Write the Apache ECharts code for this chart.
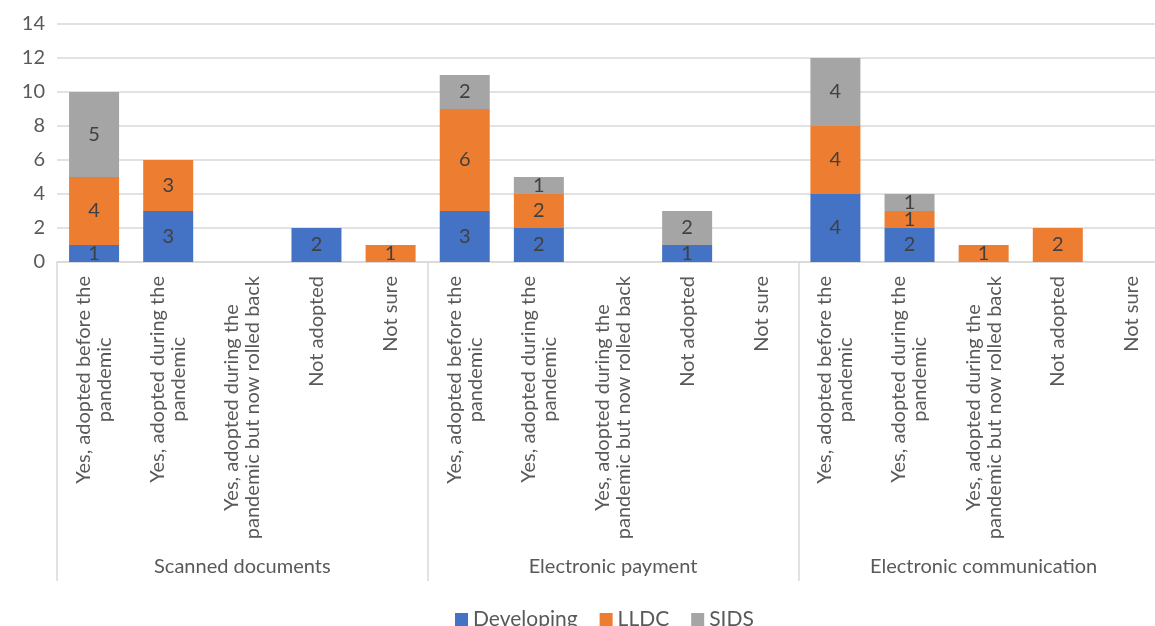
<!DOCTYPE html>
<html>
<head>
<meta charset="utf-8">
<script src="https://cdn.jsdelivr.net/npm/echarts@6/dist/echarts.min.js"></script>
<style>html,body{margin:0;padding:0;background:#fff}#c{width:1155px;height:626px}</style>
</head>
<body>
<div id="c"></div>
<script>
const groups = ['Scanned documents', 'Electronic payment', 'Electronic communication'];
const answers = ['Yes, adopted before the pandemic', 'Yes, adopted during the pandemic', 'Yes, adopted during the pandemic but now rolled back', 'Not adopted', 'Not sure'];
const developing = [1, 3, 0, 2, 0, 3, 2, 0, 1, 0, 4, 2, 0, 0, 0];
const lldc = [4, 3, 0, 0, 1, 6, 2, 0, 0, 0, 4, 1, 1, 2, 0];
const sids = [5, 0, 0, 0, 0, 2, 1, 0, 2, 0, 4, 1, 0, 0, 0];
const yTicks = {min: 0, max: 14, interval: 2};

const categories = [];
groups.forEach(g => answers.forEach(a => categories.push(a)));

const FONT = 'Lato';
const FS = 20;
const lblColor = '#595959';
const segLabel = {
  show: true, position: 'inside', color: '#404040', fontSize: FS, fontFamily: FONT,
  formatter: p => (p.value ? String(p.value) : '')
};
function ser(name, data, color) {
  return {name, type: 'bar', stack: 'a', data, barWidth: 50,
    itemStyle: {color}, label: segLabel, emphasis: {disabled: true}};
}

const chart = echarts.init(document.getElementById('c'), null, {renderer: 'canvas'});
chart.setOption({
  animation: false,
  grid: {left: 57, top: 24, width: 1112, height: 238, outerBoundsMode: 'none', containLabel: false},
  legend: {
    data: ['Developing', 'LLDC', 'SIDS'], top: 604, left: 450,
    itemWidth: 13, itemHeight: 13, itemGap: 22, icon: 'rect',
    textStyle: {fontSize: 21, color: lblColor, fontFamily: FONT}
  },
  yAxis: {
    type: 'value', min: yTicks.min, max: yTicks.max, interval: yTicks.interval,
    axisLine: {show: false}, axisTick: {show: false},
    axisLabel: {fontSize: FS, color: lblColor, fontFamily: FONT, margin: 12},
    splitLine: {lineStyle: {color: '#d9d9d9', width: 1.5}}
  },
  xAxis: [{
    type: 'category', data: categories, position: 'bottom',
    axisLine: {lineStyle: {color: '#d9d9d9', width: 1.5}},
    axisTick: {show: false},
    axisLabel: {
      interval: 0, rotate: 90, margin: 14, fontSize: FS, color: lblColor, fontFamily: FONT,
      lineHeight: 21,
      formatter: v => v.replace('the pandemic', 'the\npandemic').split('\n').map(l => '{c|' + l + '}').join('\n'),
      rich: {c: {align: 'center', fontSize: FS, color: lblColor, fontFamily: FONT, lineHeight: 21}}
    }
  }, {
    type: 'category', data: groups, position: 'bottom',
    axisLine: {show: false},
    axisTick: {show: true, length: 319, lineStyle: {color: '#d9d9d9', width: 1.5}},
    axisLabel: {interval: 0, margin: 295, fontSize: FS, color: lblColor, fontFamily: FONT},
    splitLine: {show: false}
  }],
  series: [
    ser('Developing', developing, '#4472C4'),
    ser('LLDC', lldc, '#ED7D31'),
    ser('SIDS', sids, '#A5A5A5')
  ]
});
</script>
</body>
</html>
